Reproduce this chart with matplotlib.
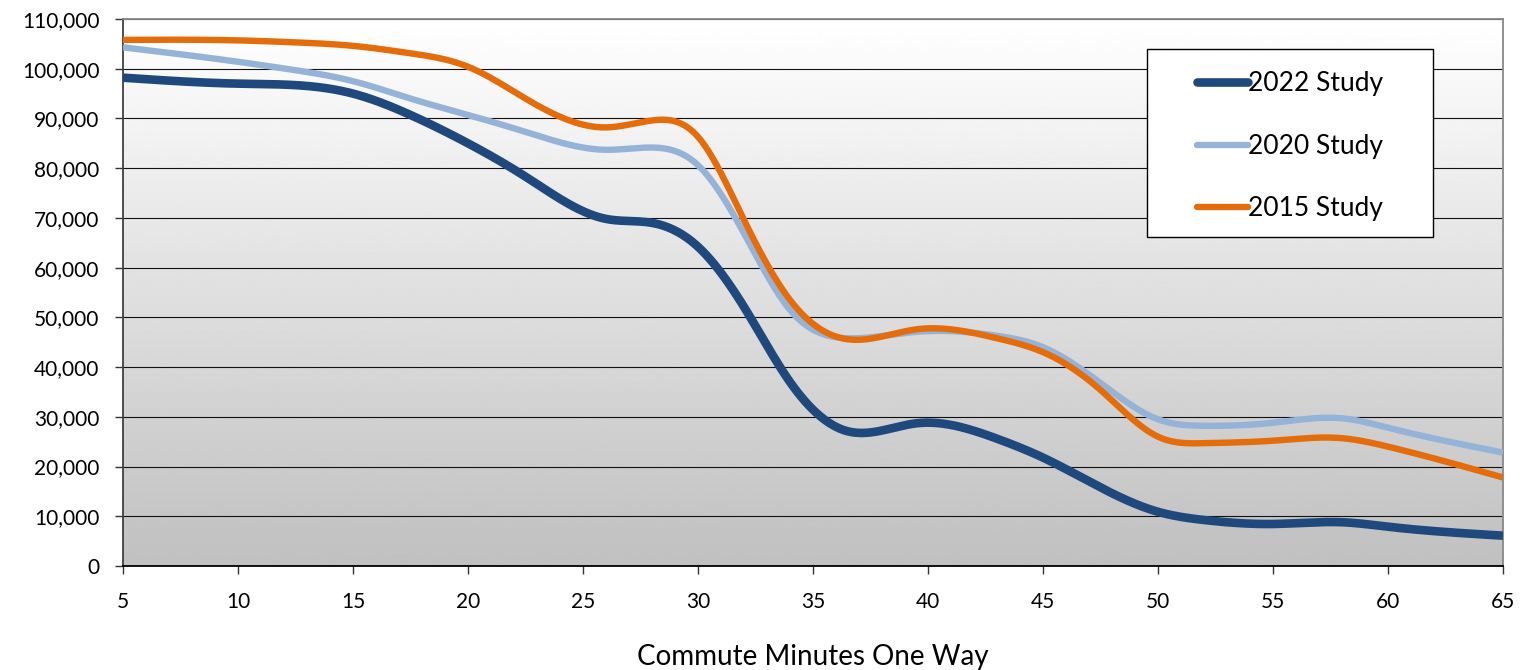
import numpy as np
import matplotlib
matplotlib.use('Agg')
import matplotlib.pyplot as plt
from matplotlib.patches import Rectangle
from matplotlib.ticker import FuncFormatter

# commute minutes one way
minutes = [5, 10, 12.5, 15, 17.5, 20, 22.5, 26, 28, 30, 32, 34, 36.5,
           39.5, 43, 45, 47.5, 50, 52, 55, 58, 60, 65]

study_2022 = [98200, 97000, 96700, 95000, 90700, 85000, 78300, 69800,
              69000, 64200, 52100, 37000, 27100, 28700, 25600, 21800, 15800,
              10900, 9250, 8450, 8800, 7900, 6100]
study_2020 = [104300, 101400, 99700, 97500, 94000, 90700, 87300, 83700,
              84150, 80600, 66900, 51500, 45800, 47100, 46300, 44000, 36800,
              29500, 28200, 28800, 29700, 27800, 22800]
study_2015 = [105800, 105700, 105300, 104600, 103100, 100400, 94000, 88200,
              89600, 86300, 69600, 53500, 45600, 47600, 45800, 43000,
              35400, 26000, 24700, 25200, 25700, 24000, 17800]

series = [('2022 Study', study_2022, '#1F497D', 6.2),
          ('2020 Study', study_2020, '#95B3D7', 4.6),
          ('2015 Study', study_2015, '#E46C0A', 4.6)]


def smooth(x, y, n=30):
    # natural cubic spline through the points (smoothed line)
    x = np.asarray(x, float)
    y = np.asarray(y, float)
    k = len(x)
    h = np.diff(x)
    A = np.zeros((k, k))
    b = np.zeros(k)
    A[0, 0] = A[-1, -1] = 1
    for i in range(1, k - 1):
        A[i, i - 1] = h[i - 1]
        A[i, i] = 2 * (h[i - 1] + h[i])
        A[i, i + 1] = h[i]
        b[i] = 6 * ((y[i + 1] - y[i]) / h[i] - (y[i] - y[i - 1]) / h[i - 1])
    M = np.linalg.solve(A, b)
    xs, ys = [], []
    for i in range(k - 1):
        t = np.linspace(x[i], x[i + 1], n, endpoint=False)
        a = x[i + 1] - t
        c = t - x[i]
        s = (M[i] * a**3 + M[i + 1] * c**3) / (6 * h[i]) \
            + (y[i] / h[i] - M[i] * h[i] / 6) * a \
            + (y[i + 1] / h[i] - M[i + 1] * h[i] / 6) * c
        xs.append(t)
        ys.append(s)
    xs.append([x[-1]])
    ys.append([y[-1]])
    return np.concatenate(xs), np.concatenate(ys)


plt.rcParams['font.family'] = ['Lato', 'DejaVu Sans']

fig = plt.figure(figsize=(15.24, 6.70), dpi=100)
ax = fig.add_axes([123 / 1524, 104 / 670, 1380 / 1524, 547 / 670])

# white-to-grey background gradient
grad = np.linspace(0, 1, 256).reshape(-1, 1)
ax.imshow(1 - grad * 0.247, extent=[5, 65, 0, 110000], aspect='auto',
          cmap='gray', vmin=0, vmax=1, origin='upper', zorder=0,
          interpolation='bilinear')

for label, vals, color, lw in series:
    sx, sy = smooth(minutes, vals)
    ax.plot(sx, sy, color=color, lw=lw, label=label, zorder=3,
            solid_capstyle='butt', solid_joinstyle='round')

ax.set_xlim(5, 65)
ax.set_ylim(0, 110000)
ax.set_xticks(np.arange(5, 66, 5))
ax.set_yticks(np.arange(0, 110001, 10000))
ax.yaxis.set_major_formatter(FuncFormatter(lambda v, p: f'{int(v):,}'))
ax.grid(axis='y', color='#111111', lw=0.8)
ax.set_axisbelow(True)

ax.tick_params(axis='both', direction='out', length=6, width=1,
               color='#333333', labelsize=15, pad=11)
ax.tick_params(axis='x', pad=13)

ax.spines['left'].set_color('#404040')
ax.spines['bottom'].set_color('#000000')
ax.spines['top'].set_color('#888888')
ax.spines['right'].set_color('#888888')
for sp in ax.spines.values():
    sp.set_linewidth(1.3)

ax.set_xlabel('Commute Minutes One Way', fontsize=20, labelpad=23)

# legend box
ax.add_patch(Rectangle((0.742, 0.601), 0.207, 0.344, transform=ax.transAxes,
                       facecolor='white', edgecolor='#000000', lw=1.0, zorder=4))
leg_handles = [plt.Line2D([], [], color=c, lw=lw, solid_capstyle='round')
               for _, _, c, lw in series]
leg = ax.legend(leg_handles, [s[0] for s in series], loc='center',
                bbox_to_anchor=(0.8457, 0.767), frameon=False, fontsize=19,
                handlelength=1.9, handletextpad=0.0, labelspacing=1.42)
leg.set_zorder(5)

fig.savefig('out.png', dpi=100)
